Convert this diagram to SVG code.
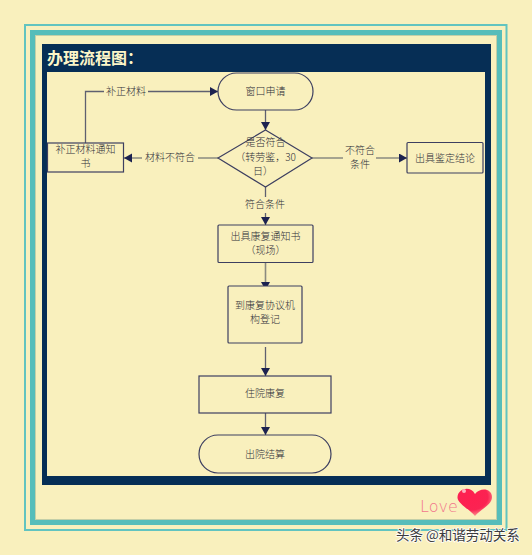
<svg xmlns="http://www.w3.org/2000/svg" width="532" height="555" viewBox="0 0 532 555">
<style>
text{font-family:"Noto Sans CJK SC","Noto Sans",sans-serif;font-size:10px;font-weight:300;fill:#2f2f38;text-anchor:middle}
.n{fill:#f9f0bd;stroke:#3d3f60;stroke-width:1.2}
.c{fill:none;stroke:#5f6070;stroke-width:1.3}
.d{stroke:#8a8a80;stroke-width:1.6}
</style>
<defs>
<marker id="a" markerUnits="userSpaceOnUse" markerWidth="10" markerHeight="10" refX="8" refY="4.500" orient="auto"><path d="M0 0L8 4.500L0 9Z" fill="#1c2250"/></marker>
<radialGradient id="h" cx="0.4" cy="0.3" r="0.8"><stop offset="0" stop-color="#ff1f50"/><stop offset="0.6" stop-color="#fb2352"/><stop offset="1" stop-color="#fbc0a8"/></radialGradient>
</defs>
<rect width="532" height="555" fill="#f9f0bd"/>
<g id="frame">
<rect x="25" y="25" width="481.500" height="505" fill="none" stroke="#62c4c0" stroke-width="2"/>
<rect x="32.500" y="32.500" width="467" height="490" fill="none" stroke="#56bdba" stroke-width="5"/>
<rect x="35.500" y="35.500" width="461" height="484" fill="none" stroke="#c3cfa8" stroke-width="1"/>
<rect x="42" y="44" width="449" height="441" fill="#062e55"/>
<rect x="47" y="72" width="438" height="404" fill="#f9f0bd"/>
<text x="47" y="64" style="font-size:16px;font-weight:700;fill:#fdf6c8;text-anchor:start">办理流程图：</text>
</g>
<g id="connectors">
<path class="c" d="M265.500 110V130" marker-end="url(#a)"/>
<path class="c" d="M85.500 143V91.500H104M148 91.500H218" marker-end="url(#a)"/>
<path class="c d" d="M218 158H198M142 158H124" marker-end="url(#a)"/>
<path class="c d" d="M312 158H343M376 158H407" marker-end="url(#a)"/>
<path class="c" d="M265.500 187V197M265.500 213V225" marker-end="url(#a)"/>
<path class="c d" d="M265.500 262V290" marker-end="url(#a)"/>
<path class="c" d="M265.500 347V376" marker-end="url(#a)"/>
<path class="c" d="M265.500 413V435" marker-end="url(#a)"/>
<text x="126" y="94.500">补正材料</text>
<text x="170" y="161">材料不符合</text>
<text x="360" y="153.500">不符合</text>
<text x="360" y="168">条件</text>
<text x="265" y="208">符合条件</text>
</g>
<g id="n1"><rect class="n" x="218" y="73" width="95" height="37" rx="18.500"/><text x="265.500" y="95">窗口申请</text></g>
<g id="n2"><path class="n" d="M265.500 130L312 158L265.500 187L218 158Z"/><text x="265.500" y="146">是否符合</text><text x="265.500" y="161">（转劳鉴，30</text><text x="263" y="175">日）</text></g>
<g id="n3"><rect class="n" x="47.500" y="143" width="76" height="29"/><text x="85.500" y="153">补正材料通知</text><text x="85.500" y="167">书</text></g>
<g id="n4"><rect class="n" x="407" y="142.500" width="76" height="30.500" rx="1"/><text x="445" y="161.500">出具鉴定结论</text></g>
<g id="n5"><rect class="n" x="218" y="225" width="95" height="37.500" rx="1"/><text x="265.500" y="240">出具康复通知书</text><text x="265.500" y="254">（现场）</text></g>
<g id="n6"><rect class="n" x="228" y="286" width="74" height="57" rx="1"/><text x="265" y="309">到康复协议机</text><text x="265" y="323">构登记</text></g>
<g id="n7"><rect class="n" x="199" y="376" width="132" height="37"/><text x="265" y="397">住院康复</text></g>
<g id="n8"><rect class="n" x="199" y="435" width="132" height="38" rx="19"/><text x="265" y="458">出院结算</text></g>
<g id="deco">
<text x="420" y="512" style="font-family:'DejaVu Sans',sans-serif;font-size:16px;font-weight:200;fill:#f2768c;text-anchor:start">Love</text>
<path d="M475 516C468 508 457 503 457.500 497C458 489 470 485 475 494C480 487 492 488 492 497C492 505 481 509 475 516Z" fill="url(#h)"/>
<circle cx="464" cy="491" r="2" fill="#ffb0c0"/>
<text x="396" y="540" style="font-size:13.500px;font-weight:400;fill:#3c3c3c;stroke:#ffffff;stroke-width:1.5;paint-order:stroke;text-anchor:start">头条 @和谐劳动关系</text>
</g>
</svg>
